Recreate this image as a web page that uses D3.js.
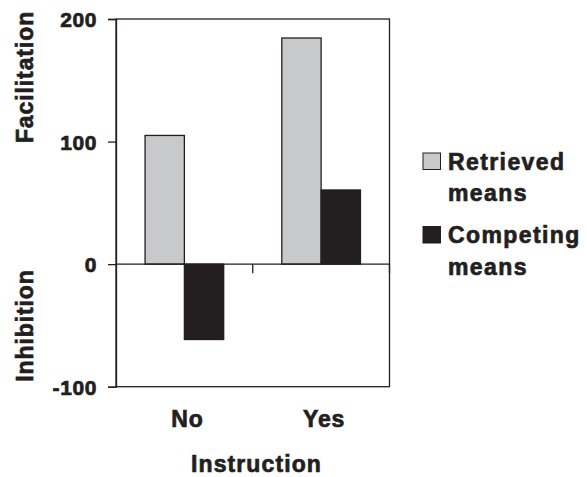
<!DOCTYPE html>
<html>
<head>
<meta charset="utf-8">
<script src="https://cdn.jsdelivr.net/npm/d3@7"></script>
<style>
  html, body { margin: 0; padding: 0; background: #fff; }
  svg text { font-family: "Liberation Sans", Arial, Helvetica, sans-serif; font-weight: bold; fill: #231f20; stroke: #231f20; stroke-width: 0.7px; }
</style>
</head>
<body>
<svg id="chart" width="587" height="477"></svg>
<script>
const categories = ["No", "Yes"];
const seriesNames = ["Retrieved means", "Competing means"];
const retrieved = [105, 184.5];
const competing = [-61.5, 60.5];
const yTicks = [-100, 0, 100, 200];
const yTickLabels = ["-100", "0", "100", "200"];
const seriesColors = ["#c8c9cb", "#231f20"];

(function () {
const svg = d3.select("#chart");
const pL = 116, pR = 389.5, pT = 19, pB = 386.7;
const ink = "#231f20";

const y = d3.scaleLinear().domain([-100, 200]).range([pB, pT]);
const x0 = d3.scaleBand().domain(categories).range([pL, pR]).padding(0);
const bw = x0.bandwidth();
const x1 = d3.scaleBand().domain(seriesNames).range([bw * 0.2125, bw * 0.7875]).padding(0);

const data = categories.map((c, i) => ({ cat: c, values: [retrieved[i], competing[i]] }));

// frame
svg.append("rect")
  .attr("x", pL).attr("y", pT).attr("width", pR - pL).attr("height", pB - pT)
  .attr("fill", "none").attr("stroke", ink).attr("stroke-width", 1.3);

// bars
const groups = svg.selectAll("g.grp").data(data).enter().append("g")
  .attr("class", "grp").attr("transform", d => `translate(${x0(d.cat)},0)`);
groups.selectAll("rect").data(d => d.values.map((v, j) => ({ v, s: seriesNames[j], j })))
  .enter().append("rect")
  .attr("x", d => x1(d.s))
  .attr("width", x1.bandwidth())
  .attr("y", d => y(Math.max(0, d.v)))
  .attr("height", d => Math.abs(y(d.v) - y(0)))
  .attr("fill", d => seriesColors[d.j])
  .attr("stroke", ink).attr("stroke-width", 1.3);

// zero line
svg.append("line").attr("x1", pL).attr("x2", pR).attr("y1", y(0)).attr("y2", y(0))
  .attr("stroke", ink).attr("stroke-width", 1.3);

// category boundary ticks on zero line
const boundaries = categories.slice(1).map(c => x0(c)).concat([pR]);
svg.selectAll("line.ctick").data(boundaries).enter().append("line")
  .attr("x1", d => d).attr("x2", d => d).attr("y1", y(0)).attr("y2", y(0) + 9)
  .attr("stroke", ink).attr("stroke-width", 1.3);

// y axis
const yAxis = d3.axisLeft(y).tickValues(yTicks).tickSize(8).tickPadding(11)
  .tickFormat((d, i) => yTickLabels[i]);
const yg = svg.append("g").attr("transform", `translate(${pL},0)`).call(yAxis);
yg.select(".domain").attr("stroke", ink).attr("stroke-width", 1.3);
yg.selectAll(".tick line").attr("stroke", ink).attr("stroke-width", 1.3);
yg.selectAll(".tick text").style("font-size", "21px").style("letter-spacing", "0.6px")
  .style("font-family", "'Liberation Sans', Arial, sans-serif").style("font-weight", "bold")
  .attr("fill", ink).attr("dy", "0.36em");

// category labels
svg.selectAll("text.cat").data(categories).enter().append("text")
  .attr("class", "cat")
  .attr("x", d => x0(d) + bw / 2 + 3).attr("y", 426.5)
  .attr("text-anchor", "middle").style("font-size", "23px").style("letter-spacing", "0.9px")
  .text(d => d);

// x title
svg.append("text").attr("x", 256.5).attr("y", 472).attr("text-anchor", "middle")
  .style("font-size", "23px").style("letter-spacing", "1.1px").text("Instruction");

// y titles
svg.append("text").attr("transform", `translate(33,77) rotate(-90)`).attr("text-anchor", "middle")
  .style("font-size", "23px").style("letter-spacing", "0.9px").text("Facilitation");
svg.append("text").attr("transform", `translate(33,325.5) rotate(-90)`).attr("text-anchor", "middle")
  .style("font-size", "23px").style("letter-spacing", "0.9px").text("Inhibition");

// legend
const legendY = [153, 226.5];
const lg = svg.selectAll("g.leg").data(seriesNames).enter().append("g")
  .attr("class", "leg").attr("transform", (d, i) => `translate(423,${legendY[i]})`);
lg.append("rect").attr("width", 17.5).attr("height", 16.5)
  .attr("fill", (d, i) => seriesColors[i]).attr("stroke", ink).attr("stroke-width", 1);
lg.append("text").attr("x", 25).attr("y", 16.5).style("font-size", "23px").style("letter-spacing", "1.4px")
  .text(d => d.split(" ")[0]);
lg.append("text").attr("x", 25).attr("y", (d, i) => i === 0 ? 47.7 : 48.5).style("font-size", "23px").style("letter-spacing", "1.4px")
  .text(d => d.split(" ")[1]);
})();
</script>
</body>
</html>
